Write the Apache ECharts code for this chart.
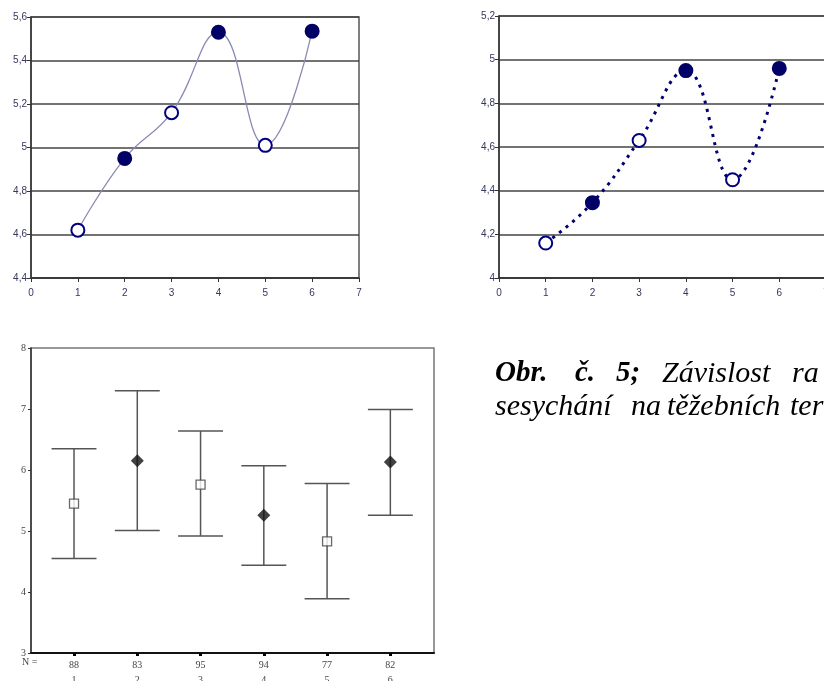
<!DOCTYPE html>
<html><head><meta charset="utf-8">
<script src="https://cdn.jsdelivr.net/npm/echarts@6/dist/echarts.min.js"></script>
<style>html,body{margin:0;padding:0;background:#fff}#c{width:824px;height:681px}</style>
</head><body><div id="c"></div>
<script>
// ---- data ----
const xPositions = [1, 2, 3, 4, 5, 6];
const topLeftValues = [4.62, 4.95, 5.16, 5.53, 5.01, 5.535];
const topLeftFilled = [false, true, false, true, false, true];
const topRightValues = [4.16, 4.345, 4.63, 4.95, 4.45, 4.96];
const topRightFilled = [false, true, false, true, false, true];
const groups = ['1', '2', '3', '4', '5', '6'];
const groupN = ['88', '83', '95', '94', '77', '82'];
const ebMean = [5.45, 6.15, 5.76, 5.26, 4.83, 6.13];
const ebLow = [4.55, 5.01, 4.92, 4.44, 3.89, 5.26];
const ebHigh = [6.35, 7.30, 6.64, 6.07, 5.78, 6.99];
const ebFilled = [false, true, false, true, false, true];
const captionLine1 = [['Obr.', true], ['č.', true], ['5;', true], ['Závislost', false], ['ra', false]];
const captionLine2 = [['sesychání', false], ['na', false], ['těžebních', false], ['ter', false]];

// ---- helpers ----
const navy = '#000066';
const labCol = '#36365e';
const fmtComma = v => String(Math.round(v * 10) / 10).replace('.', ',');
function pointItems(vals, filled) {
  return xPositions.map((x, i) => ({
    value: [x, vals[i]],
    itemStyle: filled[i] ? { color: navy, borderColor: navy } : { color: '#fff', borderColor: '#000080' }
  }));
}
function topXAxis(gi) {
  return {
    gridIndex: gi, type: 'value', min: 0, max: 7, interval: 1,
    axisLine: { show: true, lineStyle: { color: '#333', width: 1.5 } },
    axisTick: { show: true, length: 4, lineStyle: { color: '#333' } },
    axisLabel: { color: labCol, fontSize: 10, fontFamily: 'Liberation Sans', margin: 10 },
    splitLine: { show: false }
  };
}
function topYAxis(gi, min, max) {
  return {
    gridIndex: gi, type: 'value', min: min, max: max, interval: 0.2,
    axisLine: { show: true, lineStyle: { color: '#333', width: 1.5 } },
    axisTick: { show: true, length: 4, lineStyle: { color: '#333' } },
    axisLabel: { color: labCol, fontSize: 10, fontFamily: 'Liberation Sans', margin: 4, formatter: fmtComma },
    splitLine: { show: true, lineStyle: { color: '#444', width: 1.5 } }
  };
}

const chart = echarts.init(document.getElementById('c'), null, { renderer: 'canvas' });

const graphics = [];
const xs1 = [495, 575, 616, 662, 792];
captionLine1.forEach((w, i) => graphics.push({
  type: 'text', left: xs1[i], top: w[1] ? 359.5 : 359,
  style: { text: w[0], fill: '#000', font: w[1] ? 'italic bold 29px "Liberation Serif"' : 'italic 30px "Liberation Serif"' }
}));
const xs2 = [495, 631, 667, 790];
captionLine2.forEach((w, i) => graphics.push({
  type: 'text', left: xs2[i], top: 392.5,
  style: { text: w[0], fill: '#000', font: 'italic 30px "Liberation Serif"' }
}));
graphics.push({
  type: 'text', left: 22, top: 657,
  style: { text: 'N =', fill: '#444', font: '10px "Liberation Serif"' }
});

chart.setOption({
  animation: false,
  backgroundColor: '#fff',
  grid: [
    { left: 31, top: 17, width: 328, height: 261, outerBoundsMode: 'none', show: true, borderColor: '#555', borderWidth: 1.5, backgroundColor: 'transparent' },
    { left: 499, top: 16, width: 327, height: 262, outerBoundsMode: 'none', show: true, borderColor: '#555', borderWidth: 1.5, backgroundColor: 'transparent' },
    { left: 31, top: 348, width: 403, height: 305, outerBoundsMode: 'none', show: true, borderColor: '#777', borderWidth: 1.5, backgroundColor: 'transparent' }
  ],
  xAxis: [
    topXAxis(0),
    topXAxis(1),
    {
      gridIndex: 2, type: 'value', min: 0.32, max: 6.69,
      axisLine: { show: true, lineStyle: { color: '#111', width: 2 } },
      axisTick: { show: true, length: 3, customValues: xPositions, lineStyle: { color: '#000', width: 3 } },
      axisLabel: {
        customValues: xPositions, margin: 5,
        formatter: v => { const i = Math.round(v) - 1; return '{n|' + groupN[i] + '}\n{g|' + groups[i] + '}'; },
        rich: {
          n: { fontFamily: 'Liberation Serif', fontSize: 10, color: '#444', lineHeight: 15 },
          g: { fontFamily: 'Liberation Serif', fontSize: 10, color: '#444', lineHeight: 15 }
        }
      },
      splitLine: { show: false }
    }
  ],
  yAxis: [
    topYAxis(0, 4.4, 5.6),
    topYAxis(1, 4, 5.2),
    {
      gridIndex: 2, type: 'value', min: 3, max: 8, interval: 1,
      axisLine: { show: true, lineStyle: { color: '#333', width: 1.5 } },
      axisTick: { show: true, length: 3, lineStyle: { color: '#333' } },
      axisLabel: { color: '#444', fontSize: 10, fontFamily: 'Liberation Serif', margin: 5 },
      splitLine: { show: false }
    }
  ],
  graphic: graphics,
  series: [
    {
      type: 'line', xAxisIndex: 0, yAxisIndex: 0, smooth: 0.45,
      data: pointItems(topLeftValues, topLeftFilled),
      symbol: 'circle', symbolSize: 13, showAllSymbol: true,
      lineStyle: { color: '#8a8ab4', width: 1.3 },
      itemStyle: { borderWidth: 2 }
    },
    {
      type: 'line', xAxisIndex: 1, yAxisIndex: 1, smooth: 0.45,
      data: pointItems(topRightValues, topRightFilled),
      symbol: 'circle', symbolSize: 13, showAllSymbol: true,
      lineStyle: { color: '#000070', width: 3, type: [3, 5.5] },
      itemStyle: { borderWidth: 2 }
    },
    {
      type: 'custom', xAxisIndex: 2, yAxisIndex: 2,
      data: xPositions.map((x, i) => [x, ebLow[i], ebHigh[i]]),
      renderItem: (params, api) => {
        const x = api.value(0);
        const lo = api.coord([x, api.value(1)]);
        const hi = api.coord([x, api.value(2)]);
        const half = api.size([0.355, 0])[0];
        const st = { stroke: '#555', lineWidth: 1.5 };
        return {
          type: 'group', children: [
            { type: 'line', shape: { x1: lo[0], y1: lo[1], x2: hi[0], y2: hi[1] }, style: st },
            { type: 'line', shape: { x1: hi[0] - half, y1: hi[1], x2: hi[0] + half, y2: hi[1] }, style: st },
            { type: 'line', shape: { x1: lo[0] - half, y1: lo[1], x2: lo[0] + half, y2: lo[1] }, style: st }
          ]
        };
      }
    },
    {
      type: 'scatter', xAxisIndex: 2, yAxisIndex: 2,
      data: xPositions.map((x, i) => ebFilled[i]
        ? { value: [x, ebMean[i]], symbol: 'diamond', symbolSize: 13, itemStyle: { color: '#111', borderWidth: 0 } }
        : { value: [x, ebMean[i]], symbol: 'rect', symbolSize: 9, itemStyle: { color: '#fff', borderColor: '#444', borderWidth: 1.3 } })
    }
  ]
});
</script>
</body></html>
